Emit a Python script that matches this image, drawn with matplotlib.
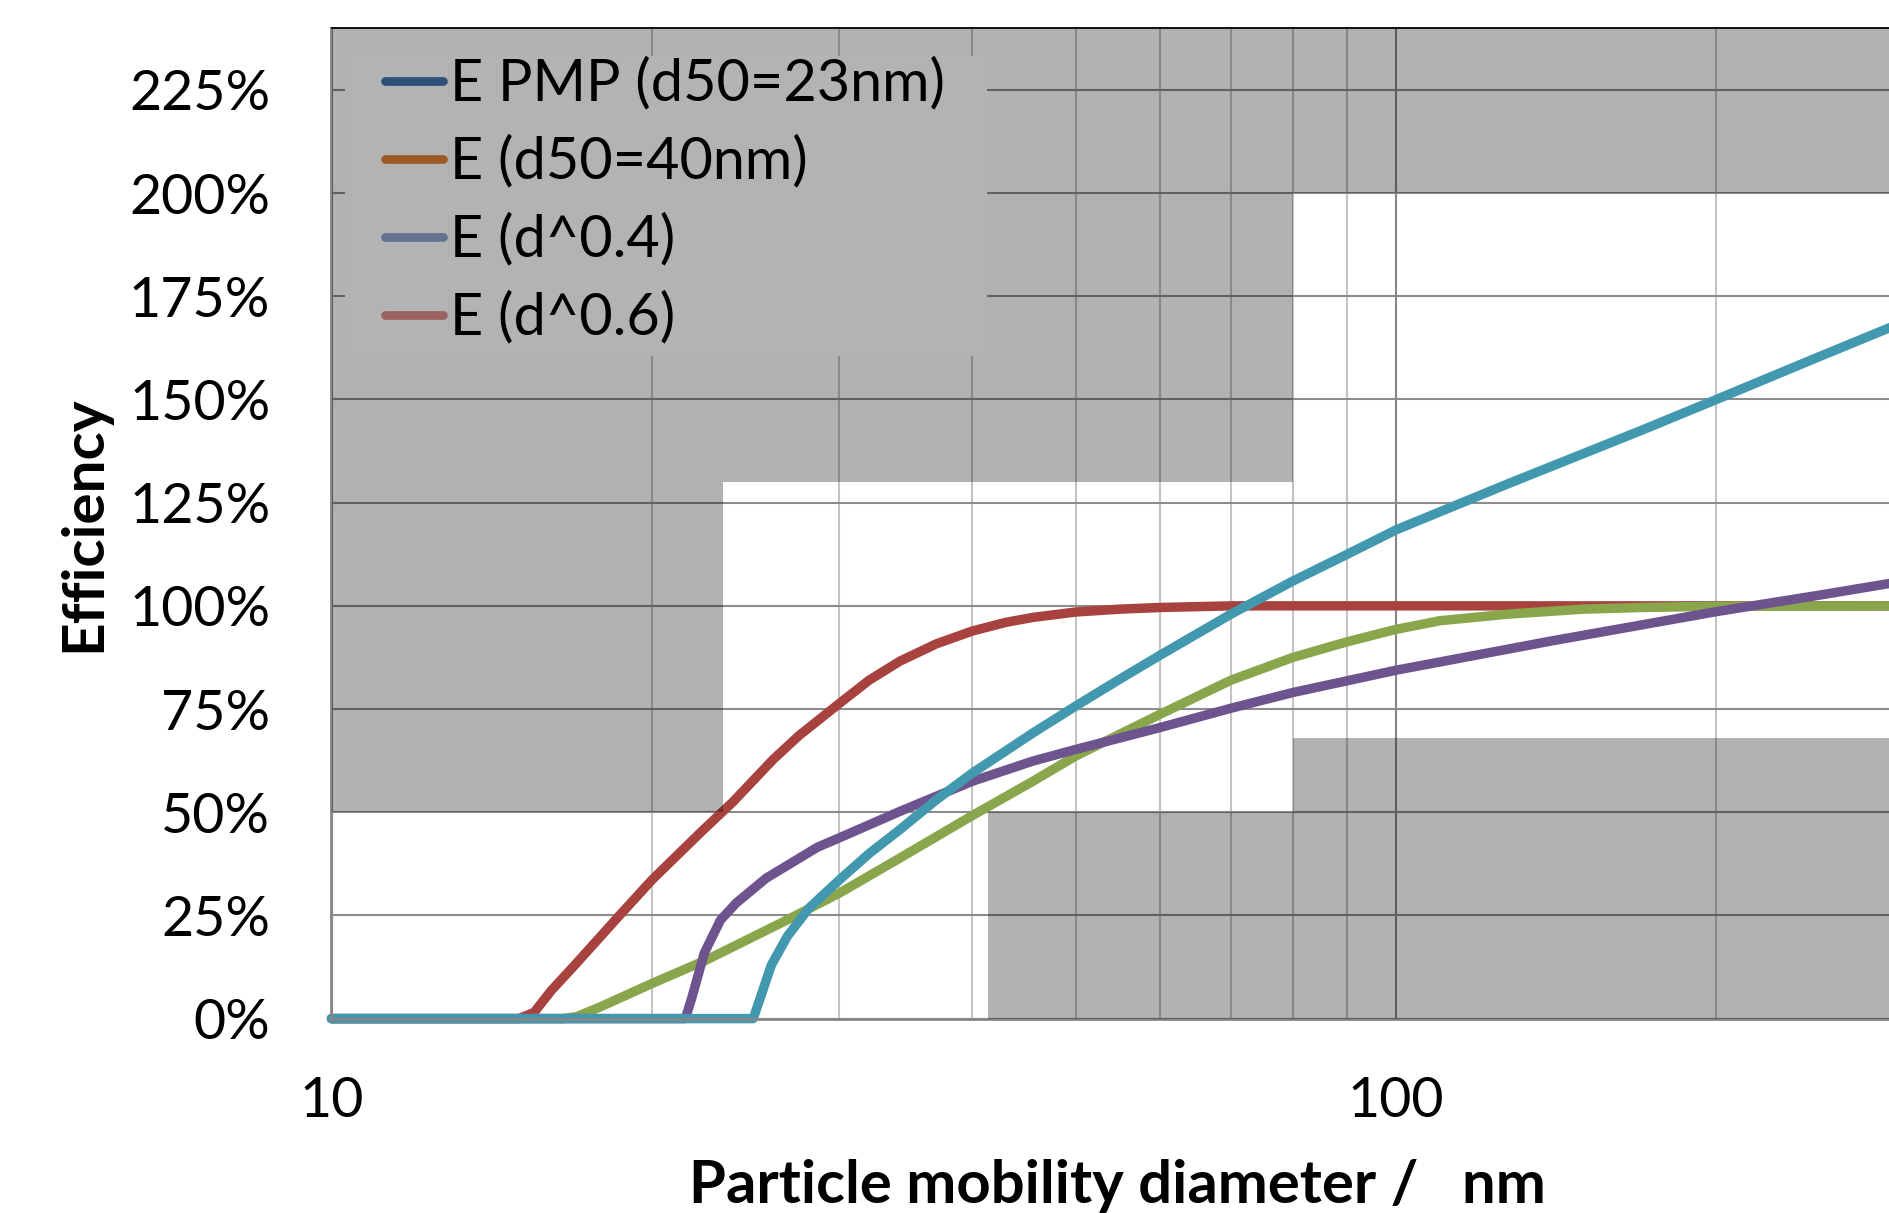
import matplotlib
matplotlib.use("Agg")
import matplotlib.pyplot as plt
from matplotlib.lines import Line2D
from matplotlib.patches import Rectangle
from matplotlib.ticker import FixedLocator, NullFormatter, FuncFormatter

# ---------------- data ----------------
# E PMP (d50=23nm)  -> drawn red
pmp_x = [10, 15.0, 15.5, 16.1, 17, 18.6, 20.0, 22.2, 23.85, 26.0, 27.5, 30.05,
         32, 34.2, 37, 40, 43, 45.6, 50, 55, 60, 70, 100, 200, 300]
pmp_y = [0, 0, 1.5, 6.9, 13.5, 24.7, 33.6, 45.0, 52.6, 62.8, 68.6, 76.5,
         82.0, 86.6, 90.8, 93.9, 96.0, 97.2, 98.5, 99.2, 99.6, 100, 100, 100, 100]

# E (d50=40nm) -> drawn green
d40_x = [10, 16.5, 17.0, 17.8, 20, 22.5, 26.6, 30, 34.2, 40, 45.6, 50, 60,
         70, 80, 90, 100, 110, 127.5, 150, 170, 200, 300]
d40_y = [0, 0, 0.5, 2.6, 8.5, 14.2, 23.5, 30.4, 38.9, 49.2, 57.5, 63.6, 73.7,
         82.0, 87.5, 91.3, 94.3, 96.4, 98.0, 99.2, 99.6, 99.9, 100]

# E (d^0.4) -> drawn purple
p04_x = [10, 21.5, 21.8, 22.4, 23.2, 24.0, 25.6, 28.6, 30, 34.2, 40, 45.6, 50,
         60, 70, 80, 100, 140, 200, 250, 300]
p04_y = [0, 0, 5, 15.9, 23.9, 28.0, 34.0, 41.5, 43.8, 50.2, 57.5, 62.4, 65.2,
         70.5, 75.2, 79.0, 84.4, 91.5, 98.6, 102.6, 106.0]

# E (d^0.6) -> drawn teal
p06_x = [10, 24.9, 25.9, 26.8, 28.1, 30, 32, 34.2, 37, 40, 45.6, 50, 55, 60,
         70, 80, 90, 100, 127.5, 170, 200, 250, 300]
p06_y = [0, 0, 13, 19.9, 26.8, 33.6, 40.0, 45.8, 53.0, 59.5, 69.2, 75.7, 82.2,
         88.0, 98.0, 106, 112.5, 118.4, 129.6, 142.5, 150, 160.4, 168.8]

# tolerance bands (grey)
upper_edges_x = [10, 23.3, 80, 300]
upper_floor = [50, 130, 200, 200]
lower_edges_x = [41.4, 80, 300]
lower_ceiling = [50, 68, 68]

legend_labels = ["E PMP (d50=23nm)", "E (d50=40nm)", "E (d^0.4)", "E (d^0.6)"]
legend_colors = ["#2E4F79", "#9B5A27", "#63738F", "#9A6363"]
line_colors = ["#A8423F", "#8AA64C", "#6E548F", "#4198AF"]

y_ticks = [0, 25, 50, 75, 100, 125, 150, 175, 200, 225]
x_major = [10, 100]
x_minor = [20, 30, 40, 50, 60, 70, 80, 90, 200, 300]

# ---------------- figure ----------------
FONT = "Lato"
plt.rcParams["font.family"] = [FONT, "DejaVu Sans"]

W, H = 1890, 1213
fig = plt.figure(figsize=(W / 100, H / 100), dpi=100)
ax_l, ax_r = 331.5, 1903.8
ax_t, ax_b = 28.0, 1018.6
ax = fig.add_axes([ax_l / W, 1 - ax_b / H, (ax_r - ax_l) / W, (ax_b - ax_t) / H])

ax.set_xscale("log")
ax.set_xlim(10, 300)
ax.set_ylim(0, 240)

# grid
ax.xaxis.set_major_locator(FixedLocator(x_major))
ax.xaxis.set_minor_locator(FixedLocator(x_minor))
ax.xaxis.set_minor_formatter(NullFormatter())
ax.xaxis.set_major_formatter(FuncFormatter(lambda v, p: f"{v:g}"))
ax.yaxis.set_major_locator(FixedLocator(y_ticks))
ax.yaxis.set_major_formatter(FuncFormatter(lambda v, p: f"{v:.0f}%"))
ax.grid(True, which="major", axis="x", color="#868686", lw=1.5)
ax.grid(True, which="minor", axis="x", color="#c4c4c4", lw=1.5)
ax.grid(True, which="major", axis="y", color="#8c8c8c", lw=1.5)

ax.tick_params(which="both", length=0)
ax.tick_params(axis="y", pad=44, labelsize=40)
ax.tick_params(axis="x", pad=41, labelsize=40)

ax.spines["right"].set_visible(False)
ax.spines["left"].set_color("#868686")
ax.spines["left"].set_linewidth(2.0)
ax.spines["bottom"].set_color("#868686")
ax.spines["bottom"].set_linewidth(2.0)
ax.spines["top"].set_color("black")
ax.spines["top"].set_linewidth(1.3)

# curves
series = [(pmp_x, pmp_y), (d40_x, d40_y), (p04_x, p04_y), (p06_x, p06_y)]
for (xs, ys), c in zip(series, line_colors):
    ax.plot(xs, ys, color=c, lw=6.8, solid_capstyle="round",
            solid_joinstyle="round", zorder=2, clip_on=False)

# grey bands (translucent, on top of lines and grid)
ax.fill_between(upper_edges_x, upper_floor, 240, step="post",
                color="black", alpha=0.30, lw=0, zorder=3)
ax.fill_between(lower_edges_x, 0, lower_ceiling, step="post",
                color="black", alpha=0.30, lw=0, zorder=3)

# legend box
lx0, lx1, ly0, ly1 = 345, 987, 56, 356
box = Rectangle((lx0 / W, 1 - ly1 / H), (lx1 - lx0) / W, (ly1 - ly0) / H,
                transform=fig.transFigure, facecolor="#b3b3b3",
                edgecolor="none", zorder=9)
fig.add_artist(box)

handles = [Line2D([0], [0], color=c, lw=6.3, solid_capstyle="round")
           for c in legend_colors]
leg = fig.legend(handles, legend_labels, loc="upper left",
                 bbox_to_anchor=(385 / W, 1 - 57 / H),
                 bbox_transform=fig.transFigure, frameon=False,
                 fontsize=41.5, handlelength=1.0, handletextpad=0.12,
                 labelspacing=0.42, borderpad=0, borderaxespad=0)
leg.set_zorder(10)

ax.set_xlabel("Particle mobility diameter /   nm", fontsize=43,
              fontweight="bold")
ax.xaxis.label.set_va("baseline")
ax.xaxis.set_label_coords(0.5, -(1203 - ax_b) / (ax_b - ax_t))
ax.set_ylabel("Efficiency", fontsize=42, fontweight="bold")
ax.yaxis.label.set_va("center")
ax.yaxis.set_label_coords((84 - ax_l) / (ax_r - ax_l), 0.5)

fig.savefig("out.png", dpi=100)
